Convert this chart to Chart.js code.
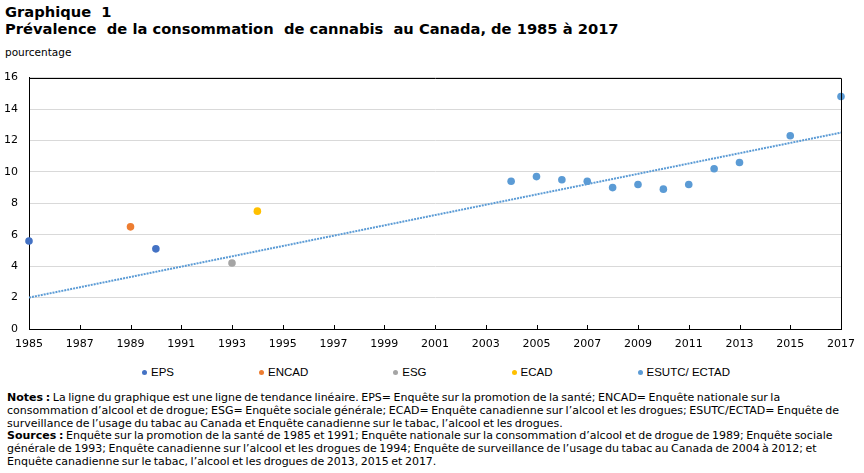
<!DOCTYPE html>
<html lang="fr">
<head>
  <meta charset="UTF-8" />
  <title>Graphique 1</title>
  <script src="https://cdn.jsdelivr.net/npm/chart.js"></script>
  <style>
    * { margin: 0; padding: 0; box-sizing: border-box; }

    body {
      width: 864px;
      height: 473px;
      background: #fff;
      color: #000;
      position: relative;
      overflow: hidden;
      font-family: 'DejaVu Sans', Verdana, sans-serif;
    }

    .title {
      position: absolute;
      left: 5px;
      top: 4px;
      font-weight: bold;
      font-size: 14.7px;
      line-height: 16.5px;
      white-space: nowrap;
    }

    .unit {
      position: absolute;
      left: 5px;
      top: 46px;
      font-size: 10.5px;
    }

    .chart-box {
      position: absolute;
      left: 0;
      top: 60px;
      width: 864px;
      height: 300px;
    }

    .legend {
      position: absolute;
      left: 4px;
      top: 365px;
      width: 864px;
      display: flex;
      justify-content: center;
      gap: 85px;
      font-family: 'Liberation Sans', Arial, sans-serif;
      font-size: 11.5px;
      line-height: 14px;
    }

    .legend span.item { display: flex; align-items: center; }
    .legend i {
      display: inline-block;
      width: 5px;
      height: 5px;
      border-radius: 50%;
      margin-right: 4px;
    }

    .notes {
      position: absolute;
      left: 7px;
      top: 392px;
      font-size: 11px;
      line-height: 12.8px;
      word-spacing: -1px;
      white-space: nowrap;
      color: #000;
    }
  </style>
</head>
<body>
  <div class="title">Graphique&nbsp; 1<br>Prévalence&nbsp; de la consommation&nbsp; de cannabis&nbsp; au Canada, de 1985 à 2017</div>
  <div class="unit">pourcentage</div>
  <div class="chart-box"><canvas id="chart"></canvas></div>
  <div class="legend" id="legend"></div>
  <div class="notes">
    <b>Notes :</b> La ligne du graphique est une ligne de tendance linéaire. EPS= Enquête sur la promotion de la santé; ENCAD= Enquête nationale sur la<br>
    consommation d’alcool et de drogue; ESG= Enquête sociale générale; ECAD= Enquête canadienne sur l’alcool et les drogues; ESUTC/ECTAD= Enquête de<br>
    surveillance de l’usage du tabac au Canada et Enquête canadienne sur le tabac, l’alcool et les drogues.<br>
    <b>Sources :</b> Enquête sur la promotion de la santé de 1985 et 1991; Enquête nationale sur la consommation d’alcool et de drogue de 1989; Enquête sociale<br>
    générale de 1993; Enquête canadienne sur l’alcool et les drogues de 1994; Enquête de surveillance de l’usage du tabac au Canada de 2004 à 2012; et<br>
    Enquête canadienne sur le tabac, l’alcool et les drogues de 2013, 2015 et 2017.
  </div>

  <script>
    // survey results (percent)
    const epsYears = [1985, 1990];
    const epsValues = [5.6, 5.1];
    const encadYears = [1989];
    const encadValues = [6.5];
    const esgYears = [1993];
    const esgValues = [4.2];
    const ecadYears = [1994];
    const ecadValues = [7.5];
    const esutcYears = [2004, 2005, 2006, 2007, 2008, 2009, 2010, 2011, 2012, 2013, 2015, 2017];
    const esutcValues = [9.4, 9.7, 9.5, 9.4, 9.0, 9.2, 8.9, 9.2, 10.2, 10.6, 12.3, 14.8];

    // linear trend line ends
    const trendYears = [1985, 2017];
    const trendValues = [2.0, 12.5];

    const seriesNames = ['EPS', 'ENCAD', 'ESG', 'ECAD', 'ESUTC/ ECTAD'];
    const seriesYears = [epsYears, encadYears, esgYears, ecadYears, esutcYears];
    const seriesValues = [epsValues, encadValues, esgValues, ecadValues, esutcValues];
    const colors = ['#4472C4', '#ED7D31', '#A5A5A5', '#FFC000', '#5B9BD5'];

    const pairs = (xs, ys) => xs.map((x, i) => ({ x: x, y: ys[i] }));

    const datasets = seriesNames.map((name, i) => ({
      label: name,
      data: pairs(seriesYears[i], seriesValues[i]),
      backgroundColor: colors[i],
      borderColor: colors[i],
      pointRadius: 3.8,
      pointBorderWidth: 0,
      clip: false,
      order: 1
    }));

    datasets.push({
      type: 'line',
      label: 'Tendance',
      data: pairs(trendYears, trendValues),
      borderColor: '#5B9BD5',
      borderWidth: 2,
      borderDash: [2, 1],
      pointRadius: 0,
      fill: false,
      order: 10
    });

    // legend built from the series names
    const legend = document.getElementById('legend');
    seriesNames.forEach((name, i) => {
      const item = document.createElement('span');
      item.className = 'item';
      item.innerHTML = '<i style="background:' + colors[i] + '"></i>' + name;
      legend.appendChild(item);
    });

    // box around the plot + small inward ticks on the x axis
    const frame = {
      id: 'frame',
      afterDatasetsDraw(chart) {
        const { ctx, chartArea: a, scales: { x } } = chart;
        ctx.save();
        ctx.strokeStyle = '#000';
        ctx.lineWidth = 1;
        ctx.beginPath();
        ctx.moveTo(Math.round(a.left) + 0.5, Math.round(a.top) + 0.5);
        ctx.lineTo(Math.round(a.right) + 0.5, Math.round(a.top) + 0.5);
        ctx.lineTo(Math.round(a.right) + 0.5, Math.round(a.bottom) + 0.5);
        ctx.stroke();
        ctx.beginPath();
        x.ticks.forEach(t => {
          const px = Math.round(x.getPixelForValue(t.value)) + 0.5;
          ctx.moveTo(px, a.bottom);
          ctx.lineTo(px, a.bottom - 4);
        });
        ctx.stroke();
        ctx.restore();
      }
    };

    const tickFont = { family: "'DejaVu Sans', Verdana, sans-serif", size: 11 };

    new Chart(document.getElementById('chart'), {
      type: 'scatter',
      data: { datasets },
      options: {
        responsive: true,
        maintainAspectRatio: false,
        animation: false,
        layout: { padding: { top: 16, right: 23, left: 0, bottom: 0 } },
        plugins: {
          legend: { display: false },
          tooltip: { enabled: false }
        },
        scales: {
          x: {
            type: 'linear',
            min: 1985,
            max: 2017,
            ticks: {
              stepSize: 2,
              padding: 9,
              color: '#000',
              font: tickFont,
              callback: v => String(v)
            },
            grid: { display: false, drawTicks: false },
            border: { display: true, color: '#000', width: 1 },
            afterFit: s => { s.height = 31; }
          },
          y: {
            min: 0,
            max: 16,
            ticks: { stepSize: 2, padding: 11, color: '#000', font: tickFont },
            grid: { color: '#D9D9D9', lineWidth: 1, drawTicks: false },
            border: { display: true, color: '#000', width: 1 },
            afterFit: s => { s.width = 29; }
          }
        }
      },
      plugins: [frame]
    });
  </script>
</body>
</html>
